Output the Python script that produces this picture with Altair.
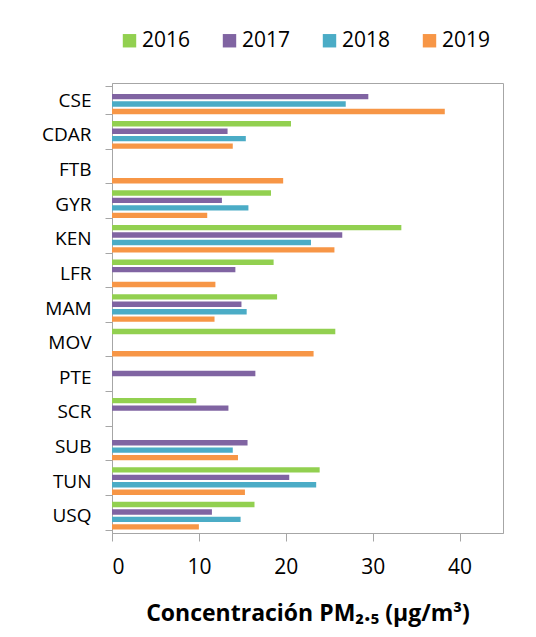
import altair as alt
import pandas as pd

sites = ["CSE", "CDAR", "FTB", "GYR", "KEN", "LFR", "MAM", "MOV", "PTE", "SCR", "SUB", "TUN", "USQ"]
years = ["2016", "2017", "2018", "2019"]
v2016 = [None, 20.6, None, 18.3, 33.3, 18.6, 19.0, 25.7, None, 9.7, None, 23.9, 16.4]
v2017 = [29.5, 13.3, None, 12.65, 26.5, 14.2, 14.9, None, 16.5, 13.4, 15.6, 20.4, 11.5]
v2018 = [26.9, 15.4, None, 15.7, 22.9, None, 15.5, None, None, None, 13.9, 23.5, 14.8]
v2019 = [38.3, 13.9, 19.7, 10.96, 25.6, 11.9, 11.8, 23.2, None, None, 14.5, 15.3, 10.0]
colors = ["#92D050", "#8064A2", "#4BACC6", "#F79646"]

rows = []
for yr, vals in zip(years, [v2016, v2017, v2018, v2019]):
    for s, v in zip(sites, vals):
        if v is not None:
            rows.append({"site": s, "year": yr, "value": v})
df = pd.DataFrame(rows)

FONT = "Open Sans"

chart = alt.Chart(df).mark_bar().encode(
    x=alt.X("value:Q",
            scale=alt.Scale(domain=[0, 45], nice=False),
            axis=alt.Axis(values=[0, 10, 20, 30, 40], grid=False, tickSize=8,
                          labelFontSize=21, labelPadding=15, labelColor="#000000",
                          domainColor="#A6A6A6", tickColor="#A6A6A6",
                          title="Concentración PM₂.₅ (µg/m³)", titleFontSize=23,
                          titleFontWeight="bold", titleColor="#000000", titlePadding=25)),
    y=alt.Y("site:N", sort=sites,
            scale=alt.Scale(paddingInner=0.2, paddingOuter=0.1),
            axis=alt.Axis(title=None, tickBand="extent", tickSize=7, labelPadding=14,
                          labelFontSize=19, labelColor="#000000",
                          domainColor="#A6A6A6", tickColor="#A6A6A6")),
    yOffset=alt.YOffset("year:N", sort=years, scale=alt.Scale(paddingInner=0.28, paddingOuter=0)),
    color=alt.Color("year:N", sort=years,
                    scale=alt.Scale(domain=years, range=colors),
                    legend=alt.Legend(title=None, orient="none", direction="horizontal",
                                      legendX=7, legendY=-53, symbolType="square",
                                      symbolSize=180, symbolStrokeWidth=0,
                                      labelFontSize=21, labelColor="#000000",
                                      labelOffset=2, columnPadding=28)),
).properties(
    width=391, height=450,
    autosize=alt.AutoSizeParams(type="none"),
    padding={"left": 104, "top": 75, "right": 25, "bottom": 100},
).configure(
    font=FONT,
).configure_view(
    stroke="#A6A6A6", strokeWidth=1,
)

chart.save("out.html", embed_options={"renderer": "svg", "actions": False})
